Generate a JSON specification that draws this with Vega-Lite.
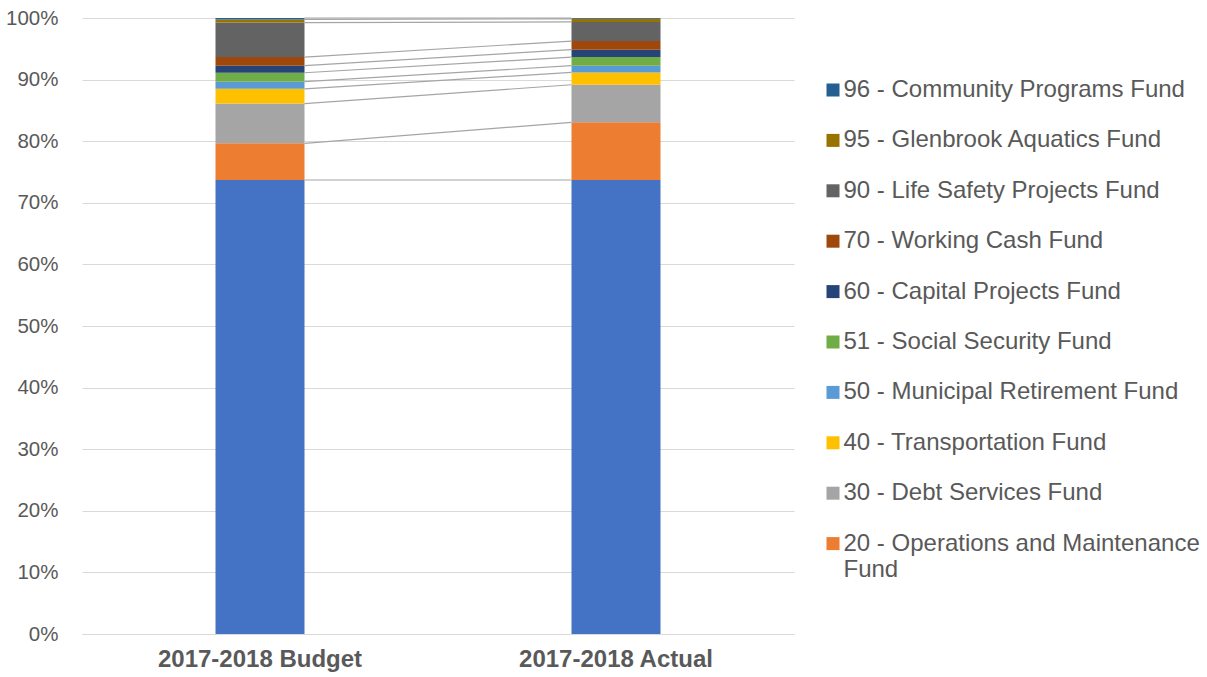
{
  "$schema": "https://vega.github.io/schema/vega-lite/v6.json",
  "width": 712,
  "height": 616,
  "autosize": "none",
  "padding": {"left": 82, "top": 18, "right": 413, "bottom": 43},
  "background": "white",
  "config": {
    "view": {"stroke": null},
    "font": "Liberation Sans"
  },
  "data": {
    "values": [
      {"cat": "2017-2018 Budget", "fund": "10 - Educational Fund", "order": 1, "value": 73.7},
      {"cat": "2017-2018 Budget", "fund": "20 - Operations and Maintenance Fund", "order": 2, "value": 5.96},
      {"cat": "2017-2018 Budget", "fund": "30 - Debt Services Fund", "order": 3, "value": 6.45},
      {"cat": "2017-2018 Budget", "fund": "40 - Transportation Fund", "order": 4, "value": 2.4},
      {"cat": "2017-2018 Budget", "fund": "50 - Municipal Retirement Fund", "order": 5, "value": 1.15},
      {"cat": "2017-2018 Budget", "fund": "51 - Social Security Fund", "order": 6, "value": 1.45},
      {"cat": "2017-2018 Budget", "fund": "60 - Capital Projects Fund", "order": 7, "value": 1.15},
      {"cat": "2017-2018 Budget", "fund": "70 - Working Cash Fund", "order": 8, "value": 1.4},
      {"cat": "2017-2018 Budget", "fund": "90 - Life Safety Projects Fund", "order": 9, "value": 5.6},
      {"cat": "2017-2018 Budget", "fund": "95 - Glenbrook Aquatics Fund", "order": 10, "value": 0.5},
      {"cat": "2017-2018 Budget", "fund": "96 - Community Programs Fund", "order": 11, "value": 0.24},
      {"cat": "2017-2018 Actual", "fund": "10 - Educational Fund", "order": 1, "value": 73.7},
      {"cat": "2017-2018 Actual", "fund": "20 - Operations and Maintenance Fund", "order": 2, "value": 9.36},
      {"cat": "2017-2018 Actual", "fund": "30 - Debt Services Fund", "order": 3, "value": 6.1},
      {"cat": "2017-2018 Actual", "fund": "40 - Transportation Fund", "order": 4, "value": 2.0},
      {"cat": "2017-2018 Actual", "fund": "50 - Municipal Retirement Fund", "order": 5, "value": 1.1},
      {"cat": "2017-2018 Actual", "fund": "51 - Social Security Fund", "order": 6, "value": 1.4},
      {"cat": "2017-2018 Actual", "fund": "60 - Capital Projects Fund", "order": 7, "value": 1.2},
      {"cat": "2017-2018 Actual", "fund": "70 - Working Cash Fund", "order": 8, "value": 1.4},
      {"cat": "2017-2018 Actual", "fund": "90 - Life Safety Projects Fund", "order": 9, "value": 3.1},
      {"cat": "2017-2018 Actual", "fund": "95 - Glenbrook Aquatics Fund", "order": 10, "value": 0.5},
      {"cat": "2017-2018 Actual", "fund": "96 - Community Programs Fund", "order": 11, "value": 0.14}
    ]
  },
  "encoding": {
    "x": {
      "field": "cat",
      "type": "nominal",
      "sort": ["2017-2018 Budget", "2017-2018 Actual"],
      "scale": {"domain": ["2017-2018 Budget", "2017-2018 Actual"], "paddingInner": 0.75, "paddingOuter": 0.375},
      "axis": {
        "title": null,
        "labelAngle": 0,
        "labelFontSize": 24,
        "labelFontWeight": "bold",
        "labelColor": "#595959",
        "labelPadding": 13,
        "labelLimit": 400,
        "ticks": false,
        "domainColor": "#D9D9D9",
        "domainWidth": 1
      }
    }
  },
  "layer": [
    {
      "mark": {"type": "bar"},
      "encoding": {
        "y": {
          "field": "value",
          "type": "quantitative",
          "stack": "zero",
          "scale": {"domain": [0, 100], "nice": false},
          "axis": {
            "title": null,
            "values": [0, 10, 20, 30, 40, 50, 60, 70, 80, 90, 100],
            "labelExpr": "datum.value + '%'",
            "labelFontSize": 20.5,
            "labelColor": "#595959",
            "labelPadding": 24,
            "ticks": false,
            "domain": false,
            "gridColor": "#D9D9D9",
            "gridWidth": 1
          }
        },
        "order": {"field": "order", "type": "quantitative", "sort": "ascending"},
        "color": {
          "field": "fund",
          "type": "nominal",
          "scale": {
            "domain": ["10 - Educational Fund", "20 - Operations and Maintenance Fund", "30 - Debt Services Fund", "40 - Transportation Fund", "50 - Municipal Retirement Fund", "51 - Social Security Fund", "60 - Capital Projects Fund", "70 - Working Cash Fund", "90 - Life Safety Projects Fund", "95 - Glenbrook Aquatics Fund", "96 - Community Programs Fund"],
            "range": ["#4472C4", "#ED7D31", "#A5A5A5", "#FFC000", "#5B9BD5", "#70AD47", "#264478", "#9E480E", "#636363", "#997300", "#255E91"]
          },
          "legend": {
            "title": null,
            "orient": "none",
            "legendX": 739,
            "legendY": 60,
            "values": ["96 - Community Programs Fund", "95 - Glenbrook Aquatics Fund", "90 - Life Safety Projects Fund", "70 - Working Cash Fund", "60 - Capital Projects Fund", "51 - Social Security Fund", "50 - Municipal Retirement Fund", "40 - Transportation Fund", "30 - Debt Services Fund", "20 - Operations and Maintenance Fund"],
            "symbolType": "square",
            "symbolSize": 169,
            "symbolStrokeWidth": 0,
            "labelFontSize": 24,
            "labelColor": "#595959",
            "labelOffset": -1.5,
            "labelLimit": 400,
            "rowPadding": 26.4,
            "labelExpr": "datum.label == '20 - Operations and Maintenance Fund' ? ['20 - Operations and Maintenance', 'Fund'] : datum.label"
          }
        }
      }
    },
    {
      "transform": [
        {"stack": "value", "groupby": ["cat"], "sort": [{"field": "order", "order": "ascending"}], "as": ["y0", "y1"]},
        {"pivot": "cat", "value": "y1", "groupby": ["fund"]}
      ],
      "mark": {"type": "rule", "color": "#A5A5A5", "strokeWidth": 1.2, "xOffset": 44.5, "x2Offset": -44.5},
      "encoding": {
        "x": {"datum": "2017-2018 Budget"},
        "x2": {"datum": "2017-2018 Actual"},
        "y": {"field": "2017-2018 Budget", "type": "quantitative"},
        "y2": {"field": "2017-2018 Actual"}
      }
    }
  ]
}
